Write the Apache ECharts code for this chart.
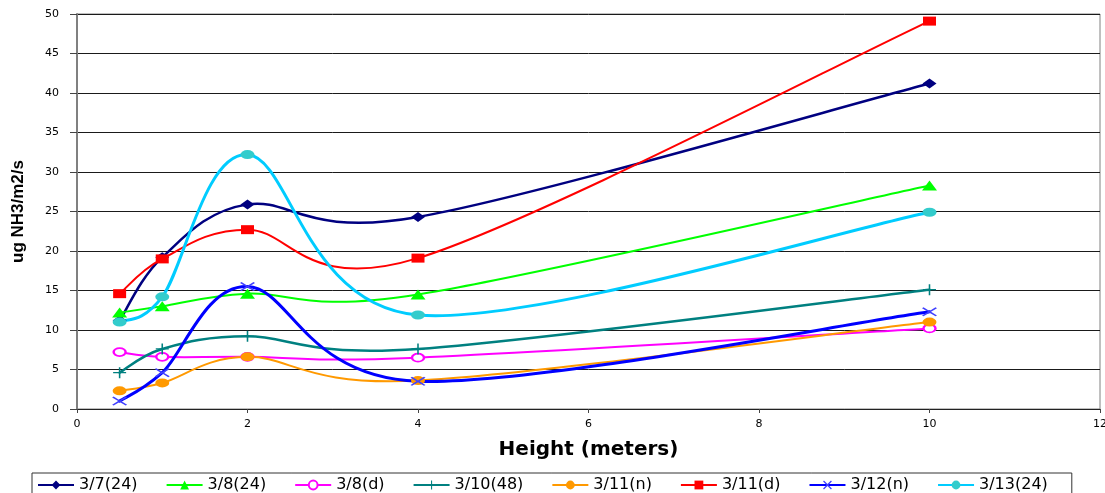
<!DOCTYPE html>
<html>
<head>
<meta charset="utf-8">
<script src="https://cdn.jsdelivr.net/npm/echarts@6/dist/echarts.min.js"></script>
<style>
  html, body { margin: 0; padding: 0; background: #fff; }
  #chart { width: 1105px; height: 493px; }
</style>
</head>
<body>
<div id="chart"></div>
<script>
// Sampling heights (meters)
var heights = [0.5, 1, 2, 4, 10];

// NH3 flux at each height, one array per sampling run
var s0307_24 = [11.2, 19.2, 25.9, 24.3, 41.2];
var s0308_24 = [12.2, 13.0, 14.6, 14.5, 28.3];
var s0308_d  = [7.2, 6.6, 6.6, 6.5, 10.2];
var s0310_48 = [4.6, 7.6, 9.2, 7.6, 15.1];
var s0311_n  = [2.3, 3.3, 6.6, 3.6, 11.0];
var s0311_d  = [14.6, 19.0, 22.7, 19.1, 49.1];
var s0312_n  = [1.0, 4.6, 15.5, 3.5, 12.3];
var s0313_24 = [11.0, 14.2, 32.2, 11.9, 24.9];

var seriesNames = ['3/7(24)', '3/8(24)', '3/8(d)', '3/10(48)', '3/11(n)', '3/11(d)', '3/12(n)', '3/13(24)'];

var xTicks = [0, 2, 4, 6, 8, 10, 12];
var yTicks = [0, 5, 10, 15, 20, 25, 30, 35, 40, 45, 50];

// thin cross and plus outlines used as marker shapes
var crossPath = 'path://M0,1 L1,0 L5,4 L9,0 L10,1 L6,5 L10,9 L9,10 L5,6 L1,10 L0,9 L4,5 Z';
var plusPath  = 'path://M4.4,0 L5.6,0 L5.6,4.4 L10,4.4 L10,5.6 L5.6,5.6 L5.6,10 L4.4,10 L4.4,5.6 L0,5.6 L0,4.4 L4.4,4.4 Z';

function pairs(vals) {
  return heights.map(function (h, i) { return [h, vals[i]]; });
}

// Smoothed curve: each data item draws the cubic segment to the next point,
// with Catmull-Rom style control points (tangent = (next - prev) / 6).
function curveSeries(vals, color, width) {
  var pts = pairs(vals);
  return {
    type: 'custom',
    silent: true,
    z: 1,
    data: pts,
    encode: { x: 0, y: 1 },
    renderItem: function (params, api) {
      var i = params.dataIndex;
      var n = pts.length;
      if (i >= n - 1) return null;
      var p = function (k) {
        k = Math.max(0, Math.min(n - 1, k));
        return api.coord(pts[k]);
      };
      var p0 = p(i - 1), p1 = p(i), p2 = p(i + 1), p3 = p(i + 2);
      return {
        type: 'bezierCurve',
        shape: {
          x1: p1[0], y1: p1[1],
          cpx1: p1[0] + (p2[0] - p0[0]) / 6, cpy1: p1[1] + (p2[1] - p0[1]) / 6,
          cpx2: p2[0] - (p3[0] - p1[0]) / 6, cpy2: p2[1] - (p3[1] - p1[1]) / 6,
          x2: p2[0], y2: p2[1]
        },
        style: { stroke: color, lineWidth: width, fill: null, lineCap: 'round' }
      };
    }
  };
}

// Marker series (also feeds the legend); its own connecting line is hidden.
function markerSeries(name, vals, color, markerColor, symbol, size, extraItem) {
  var item = { color: markerColor, borderColor: markerColor, borderWidth: 0 };
  if (extraItem) { for (var k in extraItem) item[k] = extraItem[k]; }
  return {
    name: name,
    type: 'line',
    data: pairs(vals),
    symbol: symbol,
    symbolSize: size,
    showAllSymbol: true,
    lineStyle: { color: color, width: 2, opacity: 0 },
    itemStyle: item,
    emphasis: { disabled: true },
    z: 3
  };
}

var defs = [
  { vals: s0307_24, line: '#000080', mark: '#000080', sym: 'diamond',     size: [14, 10], w: 2.5 },
  { vals: s0308_24, line: '#00FF00', mark: '#00FF00', sym: 'triangle',    size: [15, 10], w: 2 },
  { vals: s0308_d,  line: '#FF00FF', mark: '#FF00FF', sym: 'emptyCircle', size: [12, 8],  w: 2,
    item: { borderWidth: 1.5 } },
  { vals: s0310_48, line: '#008080', mark: '#008080', sym: plusPath,      size: [13, 11], w: 2.5 },
  { vals: s0311_n,  line: '#FF9900', mark: '#FF9900', sym: 'circle',      size: [14, 9],  w: 2 },
  { vals: s0311_d,  line: '#FF0000', mark: '#FF0000', sym: 'rect',        size: [13, 9],  w: 2 },
  { vals: s0312_n,  line: '#0000FF', mark: '#4040FF', sym: crossPath,     size: [15, 9],  w: 3 },
  { vals: s0313_24, line: '#00CCFF', mark: '#33CCCC', sym: 'circle',      size: [14, 9],  w: 3 }
];

var series = [];
defs.forEach(function (d) { series.push(curveSeries(d.vals, d.line, d.w)); });
defs.forEach(function (d, i) {
  series.push(markerSeries(seriesNames[i], d.vals, d.line, d.mark, d.sym, d.size, d.item));
});

var chart = echarts.init(document.getElementById('chart'), null, { renderer: 'canvas' });

var tickFont = 'DejaVu Sans, Verdana, sans-serif';

chart.setOption({
  animation: false,
  backgroundColor: '#ffffff',
  grid: {
    left: 77, right: 5, top: 14, bottom: 84,
    containLabel: false,
    outerBoundsMode: 'none',
    show: true, borderColor: '#808080', borderWidth: 1
  },
  xAxis: {
    type: 'value', min: 0, max: 12, interval: 2,
    name: 'Height (meters)', nameLocation: 'middle', nameGap: 31,
    nameTextStyle: { fontFamily: 'DejaVu Sans, sans-serif', fontWeight: 'bold', fontSize: 20, color: '#000' },
    axisLine: { show: true, lineStyle: { color: '#222', width: 1 } },
    axisTick: { show: true, length: 4, inside: false, lineStyle: { color: '#444' } },
    axisLabel: { fontFamily: tickFont, fontSize: 11, color: '#000', margin: 10,
      formatter: function (v) { return xTicks.indexOf(v) >= 0 ? String(v) : ''; } },
    splitLine: { show: false }
  },
  yAxis: {
    type: 'value', min: 0, max: 50, interval: 5,
    name: 'ug NH3/m2/s', nameLocation: 'middle', nameGap: 50, nameRotate: 90,
    nameTextStyle: { fontFamily: 'Liberation Sans Narrow, Liberation Sans, Arial, sans-serif',
      fontWeight: 'bold', fontSize: 17, color: '#000' },
    axisLine: { show: true, lineStyle: { color: '#808080', width: 2 } },
    axisTick: { show: true, length: 7, inside: false, lineStyle: { color: '#444' } },
    axisLabel: { fontFamily: tickFont, fontSize: 11, color: '#000', margin: 18,
      formatter: function (v) { return yTicks.indexOf(v) >= 0 ? String(v) : ''; } },
    splitLine: { show: true, lineStyle: { color: '#1a1a1a', width: 1 } }
  },
  legend: {
    data: seriesNames,
    left: 32, top: 473,
    orient: 'horizontal',
    itemWidth: 36, itemHeight: 11, itemGap: 28,
    padding: [4, 24, 6, 5],
    borderColor: '#333', borderWidth: 1,
    lineStyle: { opacity: 1, width: 2 },
    textStyle: { fontFamily: 'DejaVu Sans, sans-serif', fontSize: 16, color: '#000' }
  },
  series: series
});
</script>
</body>
</html>
